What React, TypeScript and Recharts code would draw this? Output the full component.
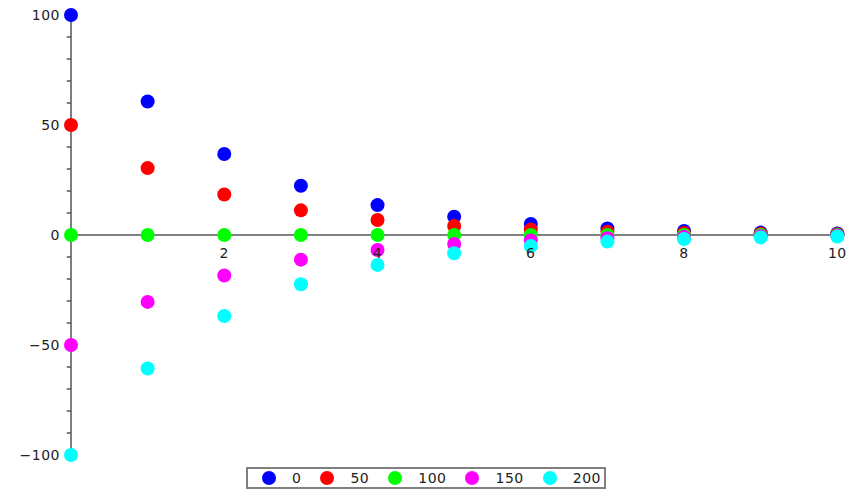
import React from 'react';
import { ScatterChart, Scatter, XAxis, YAxis, ReferenceLine, ReferenceDot, Legend } from 'recharts';

const xValues = [0, 1, 2, 3, 4, 5, 6, 7, 8, 9, 10];
const series0 = [100, 60.7, 36.8, 22.4, 13.6, 8.3, 5.0, 3.0, 1.8, 1.1, 0.7];
const series50 = [50, 30.4, 18.4, 11.2, 6.8, 4.1, 2.5, 1.5, 0.9, 0.55, 0.35];
const series100 = [0, 0, 0, 0, 0, 0, 0, 0, 0, 0, 0];
const series150 = [-50, -30.4, -18.4, -11.2, -6.8, -4.1, -2.5, -1.5, -0.9, -0.55, -0.35];
const series200 = [-100, -60.7, -36.8, -22.4, -13.6, -8.3, -5.0, -3.0, -1.8, -1.1, -0.7];
const seriesNames = ['0', '50', '100', '150', '200'];
const seriesColors = ['#0000ff', '#ff0000', '#00ff00', '#ff00ff', '#00ffff'];
const allSeries = [series0, series50, series100, series150, series200];

const xTickLabels = [2, 4, 6, 8, 10];
const xTicks = [1, 2, 3, 4, 5, 6, 7, 8, 9, 10];
const yTickLabels = [100, 50, 0, -50, -100];
const yMinorTicks = [-90, -80, -70, -60, -40, -30, -20, -10, 10, 20, 30, 40, 60, 70, 80, 90];
const yMajorTicks = [-100, -50, 50, 100];

const FONT = '"DejaVu Sans", sans-serif';
const TEXT = '#222';

const fmt = (v: number) => (v < 0 ? '\u2212' + Math.abs(v) : String(v));

const Dot = (props: any) => {
  const { cx, cy, fill } = props;
  if (cx == null || cy == null) return null;
  return <circle cx={cx} cy={cy} r={7} fill={fill} />;
};

const LegendBox = () => (
  <div
    style={{
      boxSizing: 'border-box',
      width: 360,
      height: 22,
      border: '2px solid #808080',
      display: 'flex',
      alignItems: 'center',
      paddingLeft: 14,
      fontFamily: FONT,
      fontSize: 14,
      color: TEXT,
      letterSpacing: 0.5,
      background: '#fff',
    }}
  >
    {seriesNames.map((n, i) => (
      <div key={n} style={{ display: 'flex', alignItems: 'center', marginRight: 19 }}>
        <span
          style={{
            display: 'inline-block',
            width: 14,
            height: 14,
            borderRadius: 7,
            background: seriesColors[i],
            marginRight: 16,
          }}
        />
        <span>{n}</span>
      </div>
    ))}
  </div>
);

export default function App() {
  const datasets = allSeries.map((s) => xValues.map((x, i) => ({ x, y: s[i] })));
  return (
    <div style={{ position: 'absolute', left: 0, top: 0, background: '#fff' }}>
      <ScatterChart width={854} height={498} margin={{ top: 15, right: 9, bottom: 43, left: 71 }}>
        <XAxis type="number" dataKey="x" domain={[0, 10.1]} hide />
        <YAxis type="number" dataKey="y" domain={[-100, 100]} hide />
        {datasets.map((d, i) => (
          <Scatter
            key={seriesNames[i]}
            name={seriesNames[i]}
            data={d}
            fill={seriesColors[i]}
            shape={<Dot />}
            isAnimationActive={false}
          />
        ))}
        <ReferenceLine y={0} stroke="#808080" strokeWidth={2} ifOverflow="visible" />
        <ReferenceLine x={0} stroke="#808080" strokeWidth={2} ifOverflow="visible" />
        {yMinorTicks.map((v) => (
          <ReferenceLine
            key={'ym' + v}
            segment={[{ x: 0, y: v }, { x: -0.055, y: v }]}
            stroke="#555"
            strokeWidth={1.5}
            ifOverflow="visible"
          />
        ))}
        {yMajorTicks.map((v) => (
          <ReferenceLine
            key={'yM' + v}
            segment={[{ x: 0.02, y: v }, { x: -0.07, y: v }]}
            stroke="#000"
            strokeWidth={1.5}
            ifOverflow="visible"
          />
        ))}
        {xTicks.map((v) => (
          <ReferenceLine
            key={'xt' + v}
            segment={[{ x: v, y: 0 }, { x: v, y: -2.7 }]}
            stroke="#000"
            strokeWidth={1.2}
            ifOverflow="visible"
          />
        ))}
        {yTickLabels.map((v) => (
          <ReferenceDot
            key={'yl' + v}
            x={0}
            y={v}
            r={0}
            fill="none"
            stroke="none"
            ifOverflow="visible"
            label={{ value: fmt(v), position: 'left', offset: 11, fill: TEXT, fontSize: 14, fontFamily: FONT, letterSpacing: 0.5 }}
          />
        ))}
        {xTickLabels.map((v) => (
          <ReferenceDot
            key={'xl' + v}
            x={v}
            y={0}
            r={0}
            fill="none"
            stroke="none"
            ifOverflow="visible"
            label={{ value: fmt(v), position: 'bottom', offset: 13, fill: TEXT, fontSize: 14, fontFamily: FONT, letterSpacing: 0.5 }}
          />
        ))}
        <Legend
          layout="horizontal"
          verticalAlign="middle"
          align="center"
          content={() => <LegendBox />}
          wrapperStyle={{ position: 'absolute', left: 246, top: 467, width: 360, height: 22 }}
        />
      </ScatterChart>
    </div>
  );
}
